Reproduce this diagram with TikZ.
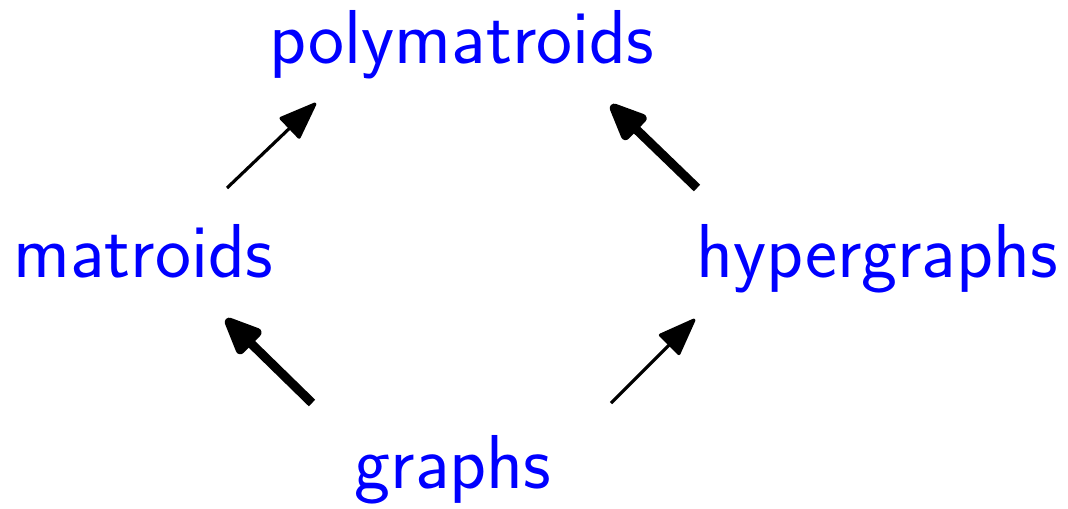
\documentclass[tikz,border=0pt]{standalone}
\usetikzlibrary{arrows.meta}
\begin{document}
\begin{tikzpicture}[x=0.02cm,y=-0.02cm,
  lbl/.style={text=blue,font=\sffamily\fontsize{43.5}{52}\selectfont,anchor=base,inner sep=0pt},
  thinarr/.style={line width=1.8pt,-{Triangle[round,length=23pt,width=17pt]}},
  thickarr/.style={line width=5.2pt,-{Triangle[round,length=25pt,width=20pt]}}]
\useasboundingbox (0,0) rectangle (1068,508);
\node[lbl] (poly) at (462,63) {polymatroids};
\node[lbl] (mat) at (143,277) {matroids};
\node[lbl] (hyp) at (877,277) {hypergraphs};
\node[lbl] (gr) at (453,488) {graphs};
\coordinate (a1s) at (227,188); \coordinate (a1e) at (316,103);
\coordinate (a2s) at (697,188); \coordinate (a2e) at (611,105);
\coordinate (a3s) at (312,403); \coordinate (a3e) at (226,319);
\coordinate (a4s) at (611,403); \coordinate (a4e) at (695,319);
\draw[thinarr] (a1s) -- (a1e);
\draw[thickarr] (a2s) -- (a2e);
\draw[thickarr] (a3s) -- (a3e);
\draw[thinarr] (a4s) -- (a4e);
\end{tikzpicture}
\end{document}
